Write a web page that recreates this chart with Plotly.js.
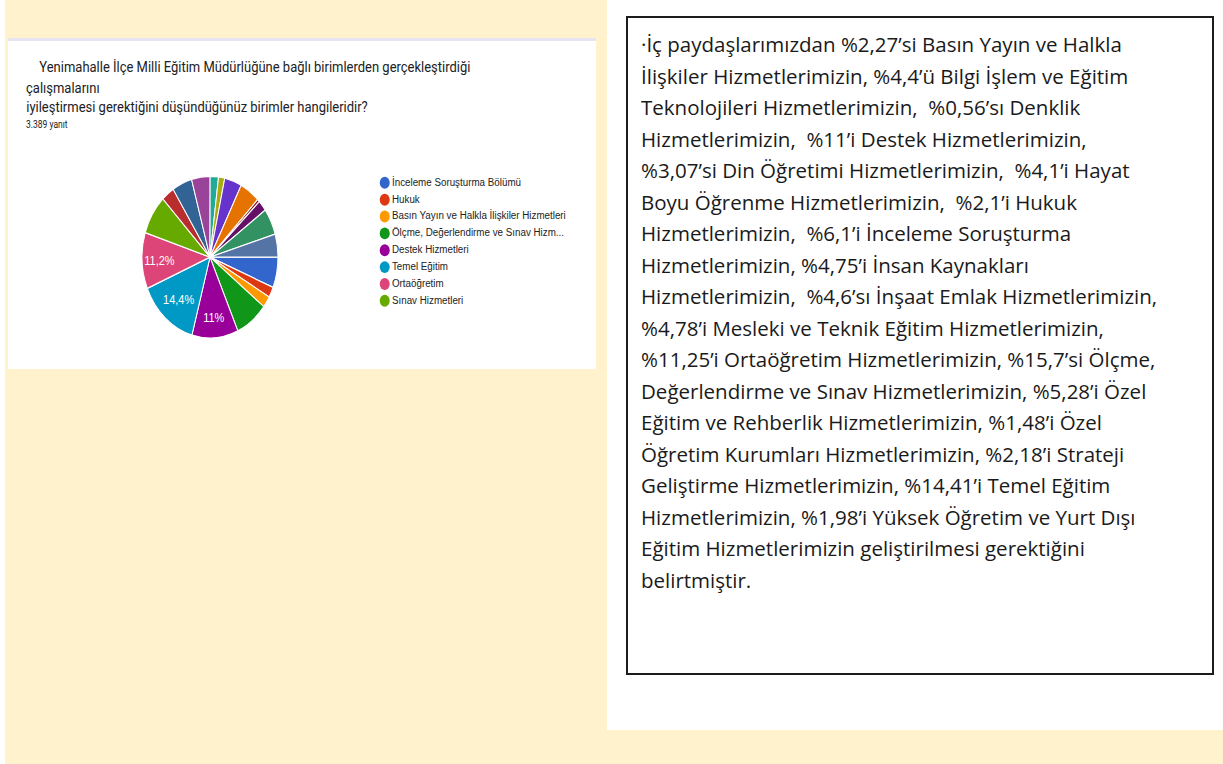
<!DOCTYPE html>
<html>
<head>
<meta charset="utf-8">
<script src="https://cdn.plot.ly/plotly-3.0.1.min.js"></script>
<style>
html,body{margin:0;padding:0;width:1223px;height:764px;overflow:hidden;background:#ffffff;position:relative;}
#creamL{position:absolute;left:5px;top:0;width:602px;height:764px;background:#fff2cc;}
#creamB{position:absolute;left:5px;top:730px;width:1218px;height:34px;background:#fff2cc;}
#card{position:absolute;left:8px;top:38px;width:588px;height:331px;background:#ffffff;}
#cardTop{position:absolute;left:8px;top:38px;width:588px;height:3px;background:#e7e5f4;}
#chart{position:absolute;left:8px;top:38px;width:588px;height:278px;transform:scaleY(1.19);transform-origin:0 0;}
#textbox{position:absolute;left:626px;top:16px;width:588px;height:659px;border:2px solid #1c1c1c;box-sizing:border-box;padding:11px 0 0 13px;
  font-family:"Open Sans",Lato,sans-serif;font-size:20.5px;color:#1a1a1a;}
#textbox div{height:31.5px;line-height:31.5px;white-space:pre;}
</style>
</head>
<body>
<div id="creamL"></div>
<div id="creamB"></div>
<div id="card"></div>
<div id="cardTop"></div>
<div id="chart"></div>
<div id="textbox"></div>
<script>
// ---- data ----
const categories = [
  "İnceleme Soruşturma Bölümü",
  "Hukuk",
  "Basın Yayın ve Halkla İlişkiler Hizmetleri",
  "Ölçme, Değerlendirme ve Sınav Hizmetleri",
  "Destek Hizmetleri",
  "Temel Eğitim",
  "Ortaöğretim",
  "Sınav Hizmetleri",
  "Din Öğretimi Hizmetleri",
  "İnsan Kaynakları Hizmetleri",
  "Bilgi İşlem ve Eğitim Teknolojileri Hizmetleri",
  "Yüksek Öğretim ve Yurt Dışı Eğitim Hizmetleri",
  "Özel Öğretim Kurumları Hizmetleri",
  "Hayat Boyu Öğrenme Hizmetleri",
  "Mesleki ve Teknik Eğitim Hizmetleri",
  "Denklik Hizmetleri",
  "Strateji Geliştirme Hizmetleri",
  "Özel Eğitim ve Rehberlik Hizmetleri",
  "İnşaat Emlak Hizmetleri"
];
const shares = [6.1, 2.1, 2.27, 7.8, 11, 14.4, 11.2, 7.9, 3.07, 4.75, 4.4, 1.98, 1.48, 4.1, 4.78, 0.56, 2.18, 5.28, 4.6];
const sliceLabels = ["", "", "", "", "11%", "14,4%", "11,2%", "", "", "", "", "", "", "", "", "", "", "", ""];
const sliceColors = ["#3366cc","#dc3912","#ff9900","#109618","#990099","#0099c6","#dd4477","#66aa00","#b82e2e","#316395",
  "#994499","#22aa99","#aaaa11","#6633cc","#e67300","#8b0707","#651067","#329262","#5574a6"];
const legendNames = [
  "İnceleme Soruşturma Bölümü",
  "Hukuk",
  "Basın Yayın ve Halkla İlişkiler Hizmetleri",
  "Ölçme, Değerlendirme ve Sınav Hizm...",
  "Destek Hizmetleri",
  "Temel Eğitim",
  "Ortaöğretim",
  "Sınav Hizmetleri"
];
const titleLines = [
  "Yenimahalle İlçe Milli Eğitim Müdürlüğüne bağlı birimlerden gerçekleştirdiği",
  "çalışmalarını",
  "iyileştirmesi gerektiğini düşündüğünüz birimler hangileridir?"
];
const responseCount = "3.389 yanıt";
const noteLines = [
  "·İç paydaşlarımızdan %2,27’si Basın Yayın ve Halkla",
  "İlişkiler Hizmetlerimizin, %4,4’ü Bilgi İşlem ve Eğitim",
  "Teknolojileri Hizmetlerimizin,  %0,56’sı Denklik",
  "Hizmetlerimizin,  %11’i Destek Hizmetlerimizin,",
  "%3,07’si Din Öğretimi Hizmetlerimizin,  %4,1’i Hayat",
  "Boyu Öğrenme Hizmetlerimizin,  %2,1’i Hukuk",
  "Hizmetlerimizin,  %6,1’i İnceleme Soruşturma",
  "Hizmetlerimizin, %4,75’i İnsan Kaynakları",
  "Hizmetlerimizin,  %4,6’sı İnşaat Emlak Hizmetlerimizin,",
  "%4,78’i Mesleki ve Teknik Eğitim Hizmetlerimizin,",
  "%11,25’i Ortaöğretim Hizmetlerimizin, %15,7’si Ölçme,",
  "Değerlendirme ve Sınav Hizmetlerimizin, %5,28’i Özel",
  "Eğitim ve Rehberlik Hizmetlerimizin, %1,48’i Özel",
  "Öğretim Kurumları Hizmetlerimizin, %2,18’i Strateji",
  "Geliştirme Hizmetlerimizin, %14,41’i Temel Eğitim",
  "Hizmetlerimizin, %1,98’i Yüksek Öğretim ve Yurt Dışı",
  "Eğitim Hizmetlerimizin geliştirilmesi gerektiğini",
  "belirtmiştir."
];

// ---- note text box ----
const tb = document.getElementById('textbox');
noteLines.forEach(function (t) { const d = document.createElement('div'); d.textContent = t; tb.appendChild(d); });

// ---- chart ----
const pie = {
  type: 'pie',
  labels: categories,
  values: shares,
  text: sliceLabels,
  textinfo: 'text',
  textposition: 'inside',
  insidetextorientation: 'horizontal',
  textfont: {family: 'Liberation Sans, Arial, sans-serif', size: 11, color: '#ffffff'},
  sort: false,
  direction: 'clockwise',
  rotation: 90,
  marker: {colors: sliceColors, line: {color: '#ffffff', width: 1}},
  domain: {x: [0.2279, 0.4592], y: [0.0931, 0.582]},
  showlegend: false,
  hoverinfo: 'none'
};
const legendTrace = {
  type: 'scatter',
  mode: 'markers+text',
  x: legendNames.map(function () { return 0; }),
  y: legendNames,
  text: legendNames,
  textposition: 'middle right',
  textfont: {family: 'Liberation Sans, Arial, sans-serif', size: 9.8, color: '#222222'},
  marker: {color: sliceColors.slice(0, legendNames.length), size: 10},
  cliponaxis: false,
  showlegend: false,
  hoverinfo: 'skip'
};
const titleFont = {family: 'Roboto, sans-serif', size: 13, color: '#202124'};
const annotations = [
  {text: titleLines[0], x: 0.0493, y: 0.912},
  {text: titleLines[1], x: 0.0272, y: 0.849},
  {text: titleLines[2], x: 0.0272, y: 0.793}
].map(function (a) {
  return Object.assign({xref: 'paper', yref: 'paper', xanchor: 'left', yanchor: 'middle', showarrow: false, font: titleFont}, a);
});
annotations.push({text: responseCount, x: 0.0272, y: 0.738, xref: 'paper', yref: 'paper', xanchor: 'left', yanchor: 'middle',
  showarrow: false, font: {family: 'Roboto, sans-serif', size: 8.5, color: '#202124'}});

const layout = {
  width: 588, height: 278,
  margin: {l: 0, r: 0, t: 0, b: 0},
  paper_bgcolor: 'rgba(0,0,0,0)',
  plot_bgcolor: 'rgba(0,0,0,0)',
  showlegend: false,
  xaxis: {domain: [0.6, 1], range: [-24, 212], visible: false, fixedrange: true},
  yaxis: {domain: [0.1801, 0.5877], type: 'category', range: [7.5, -0.5], visible: false, fixedrange: true},
  annotations: annotations
};
Plotly.newPlot('chart', [pie, legendTrace], layout, {displayModeBar: false, staticPlot: true});
</script>
</body>
</html>
